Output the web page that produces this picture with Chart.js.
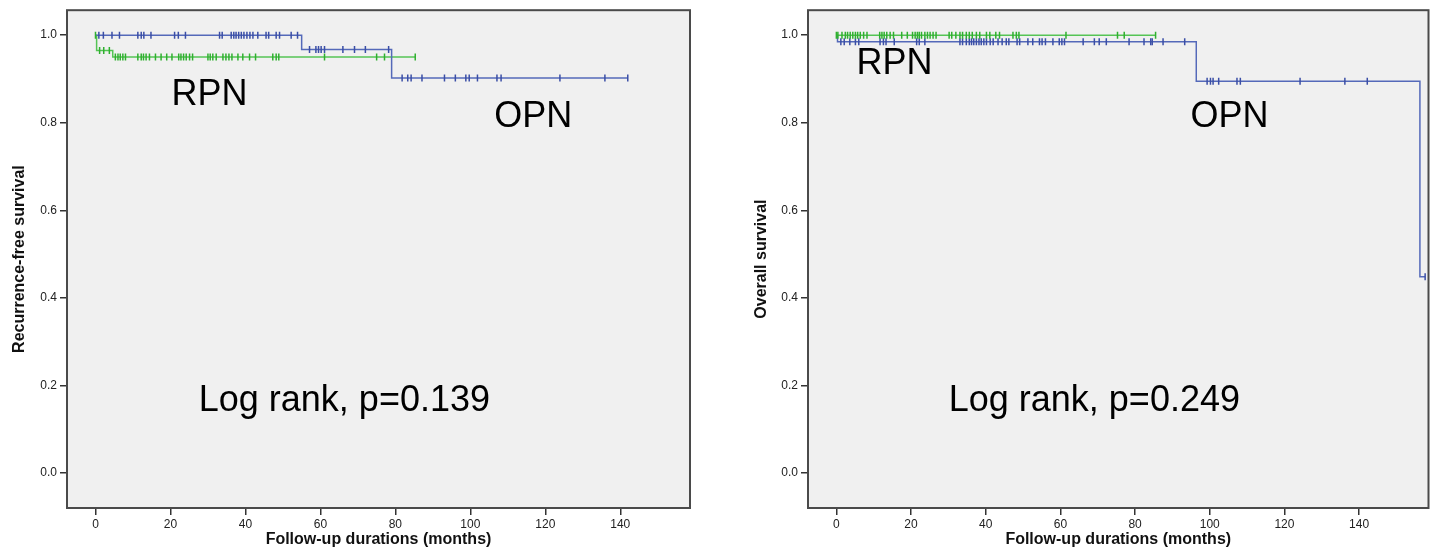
<!DOCTYPE html>
<html>
<head>
<meta charset="utf-8">
<title>Survival curves RPN vs OPN</title>
<script src="https://cdn.jsdelivr.net/npm/chart.js@4.4.0/dist/chart.umd.min.js"></script>
<style>
  html, body { margin: 0; padding: 0; background: #fff; }
  #wrap { position: relative; width: 1434px; height: 552px; }
  .panel { position: absolute; top: 0; width: 717px; height: 552px; }
  #left { left: 0; }
  #right { left: 717px; }
</style>
</head>
<body>
<div id="wrap">
  <div class="panel" id="left"><canvas id="rfsChart" width="717" height="552"></canvas></div>
  <div class="panel" id="right"><canvas id="osChart" width="717" height="552"></canvas></div>
</div>
<script>
// axis ticks
const xTicks = [0, 20, 40, 60, 80, 100, 120, 140];
const yTicks = [0.0, 0.2, 0.4, 0.6, 0.8, 1.0];

// Recurrence-free survival (left panel)
const rfsOpnTimes = [0, 55, 79, 142];
const rfsOpnSurv = [1.0, 0.967, 0.902, 0.902];
const rfsOpnCensored = [0.9, 2.1, 4.4, 6.4, 11.3, 12.2, 12.9, 14.8, 21.1, 22.1, 24, 33.1, 33.8, 36.2, 36.9, 37.5, 38.2,
  38.9, 39.6, 40.4, 41.2, 42, 43.3, 45.5, 46.2, 48.2, 49.1, 52.2, 53.9,
  57.1, 58.8, 59.5, 60.2, 61.1, 66, 69.1, 72, 78.2,
  81.8, 83.3, 84.2, 87.1, 93.1, 96, 98.8, 99.7, 101.9, 107.1, 108.2, 123.9, 135.9, 142];
const rfsRpnTimes = [0, 0.3, 4.6, 85.3];
const rfsRpnSurv = [1.0, 0.965, 0.95, 0.95];
const rfsRpnCensored = [0, 1.1, 2.2, 3.7, 5.3, 6, 6.6, 7.3, 8, 11.3, 12.2, 12.8, 13.5, 14.4, 16, 17.5, 19, 20.4, 22.2,
  22.8, 23.5, 24.2, 25.1, 25.9, 30, 30.6, 31.3, 32.2, 34, 34.8, 35.6, 36.4, 38, 39.3, 41.1, 42.7,
  47.3, 48.2, 48.9, 61.1, 75, 77.1, 85.3];

// Overall survival (right panel)
const osOpnTimes = [0, 0.3, 96.4, 156.3, 157.7];
const osOpnSurv = [1.0, 0.985, 0.895, 0.448, 0.448];
const osOpnCensored = [1.2, 2.1, 3.6, 5.1, 6, 11.7, 12.6, 13.3, 15.5, 21.5, 22.2, 23.7, 33.1, 33.8, 34.8, 35.6, 36.2,
  36.8, 37.5, 38.2, 38.8, 39.5, 40.2, 41.2, 42, 43.3, 44.4, 45.5, 46.2, 48.4, 49.1, 51.3, 52.6, 54.4,
  55.1, 56, 58, 59.7, 60.4, 61.1, 66.1, 69.1, 70.4, 72.3, 78.4, 82.4, 84.2, 84.6, 87.5, 93.3,
  99.3, 100.2, 100.9, 102.4, 107.3, 108.2, 124.2, 136.2, 142.2, 157.7];
const osRpnTimes = [0, 85.5];
const osRpnSurv = [1.0, 1.0];
const osRpnCensored = [0, 0.4, 1.5, 2.4, 3, 3.7, 4.4, 5.1, 5.7, 6.4, 7.3, 8.2, 11.6, 12.2, 12.8, 13.5, 14.4, 15.3, 17.5,
  19, 20.4, 21.1, 21.7, 22.2, 22.8, 23.7, 24.4, 25.1, 25.9, 26.7, 30.2, 30.9, 32, 33.1, 33.8, 34.8,
  35.6, 36.4, 37.5, 38.4, 40.2, 41.1, 42.7, 43.7, 47.3, 48.2, 48.9, 61.5, 75.3, 77.1, 85.5];

const BLUE = '#5469b9';
const BLUE_MARK = '#3a4ea6';
const GREEN = '#55c455';
const GREEN_MARK = '#2fb02f';
const FONT = "'Liberation Sans', Arial, sans-serif";

// survival level of a step curve at time t
function levelAt(times, surv, t) {
    let s = surv[0];
    times.forEach((tt, i) => { if (tt <= t) s = surv[i]; });
    return s;
}

function curve(times, surv, color) {
    return {
        data: times.map((t, i) => ({ x: t, y: surv[i] })),
        borderColor: color,
        borderWidth: 1.5,
        stepped: true,
        pointRadius: 0,
        fill: false
    };
}

function marks(times, surv, censored, color) {
    return {
        data: censored.map(t => ({ x: t, y: levelAt(times, surv, t) })),
        showLine: false,
        pointStyle: 'line',
        rotation: 90,
        pointRadius: 3.5,
        pointBorderColor: color,
        pointBorderWidth: 1.5,
        borderColor: color
    };
}

// plot background and frame
const framePlugin = {
    id: 'frame',
    beforeDraw(chart) {
        const { ctx, chartArea: a } = chart;
        ctx.save();
        ctx.fillStyle = '#f0f0f0';
        ctx.fillRect(a.left, a.top, a.right - a.left, a.bottom - a.top);
        ctx.restore();
    },
    afterDraw(chart) {
        const { ctx, chartArea: a } = chart;
        ctx.save();
        ctx.strokeStyle = '#4a4a4a';
        ctx.lineWidth = 2;
        ctx.strokeRect(a.left, a.top, a.right - a.left, a.bottom - a.top);
        ctx.restore();
    }
};

// big text labels on the plot
const notesPlugin = {
    id: 'notes',
    afterDatasetsDraw(chart, args, opts) {
        const { ctx, scales: { x, y } } = chart;
        ctx.save();
        ctx.fillStyle = '#000';
        ctx.font = '36px ' + FONT;
        ctx.textAlign = 'center';
        ctx.textBaseline = 'alphabetic';
        opts.items.forEach(n => ctx.fillText(n.text, x.getPixelForValue(n.x), y.getPixelForValue(n.y)));
        ctx.restore();
    }
};

function makeChart(id, cfg) {
    return new Chart(document.getElementById(id), {
        type: 'line',
        data: { datasets: cfg.datasets },
        options: {
            animation: false,
            responsive: false,
            maintainAspectRatio: false,
            layout: { padding: { top: 9, right: cfg.padRight, left: 0, bottom: 0 } },
            plugins: {
                legend: { display: false },
                tooltip: { enabled: false },
                notes: { items: cfg.notes }
            },
            scales: {
                x: {
                    type: 'linear',
                    min: -7.6,
                    max: 158.6,
                    afterBuildTicks: s => { s.ticks = xTicks.map(v => ({ value: v })); },
                    afterFit: s => { s.height = 44; },
                    ticks: { font: { family: FONT, size: 12 }, color: '#222', padding: 2, maxRotation: 0, autoSkip: false },
                    grid: { drawOnChartArea: false, tickLength: 7, color: '#333', lineWidth: 1.5 },
                    border: { display: false },
                    title: {
                        display: true,
                        text: 'Follow-up durations (months)',
                        font: { family: FONT, size: 16, weight: 'bold' },
                        color: '#111',
                        padding: { top: 0, bottom: 3 }
                    }
                },
                y: {
                    type: 'linear',
                    min: -0.08,
                    max: 1.057,
                    afterBuildTicks: s => { s.ticks = yTicks.map(v => ({ value: v })); },
                    afterFit: s => { s.width = cfg.yWidth; },
                    ticks: {
                        font: { family: FONT, size: 12 }, color: '#222', padding: 3,
                        callback: v => v.toFixed(1)
                    },
                    grid: { drawOnChartArea: false, tickLength: 7, color: '#333', lineWidth: 1.5 },
                    border: { display: false },
                    title: {
                        display: true,
                        text: cfg.yTitle,
                        font: { family: FONT, size: 16, weight: 'bold' },
                        color: '#111',
                        padding: { top: cfg.yTitlePad, bottom: 0 }
                    }
                }
            }
        },
        plugins: [framePlugin, notesPlugin]
    });
}

makeChart('rfsChart', {
    yTitle: 'Recurrence-free survival',
    yWidth: 67,
    yTitlePad: 10,
    padRight: 27,
    datasets: [
        marks(rfsRpnTimes, rfsRpnSurv, rfsRpnCensored, GREEN_MARK),
        marks(rfsOpnTimes, rfsOpnSurv, rfsOpnCensored, BLUE_MARK),
        curve(rfsOpnTimes, rfsOpnSurv, BLUE),
        curve(rfsRpnTimes, rfsRpnSurv, GREEN)
    ],
    notes: [
        { text: 'RPN', x: 30.4, y: 0.841 },
        { text: 'OPN', x: 116.8, y: 0.791 },
        { text: 'Log rank, p=0.139', x: 66.4, y: 0.141 }
    ]
});

makeChart('osChart', {
    yTitle: 'Overall survival',
    yWidth: 91,
    yTitlePad: 35,
    padRight: 3,
    datasets: [
        marks(osRpnTimes, osRpnSurv, osRpnCensored, GREEN_MARK),
        marks(osOpnTimes, osOpnSurv, osOpnCensored, BLUE_MARK),
        curve(osRpnTimes, osRpnSurv, GREEN),
        curve(osOpnTimes, osOpnSurv, BLUE)
    ],
    notes: [
        { text: 'RPN', x: 15.6, y: 0.911 },
        { text: 'OPN', x: 105.3, y: 0.791 },
        { text: 'Log rank, p=0.249', x: 69.1, y: 0.141 }
    ]
});
</script>
</body>
</html>
